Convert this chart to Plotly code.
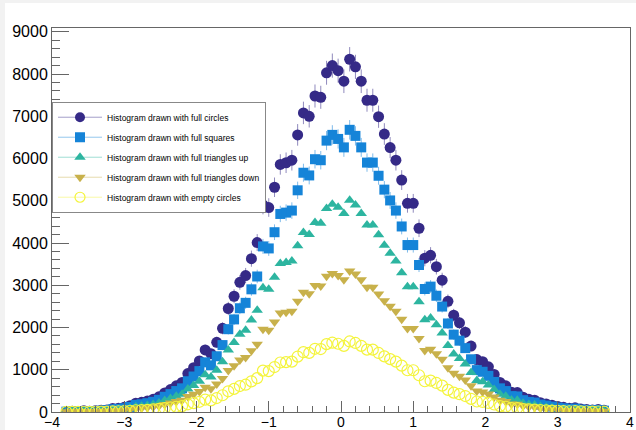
import plotly.graph_objects as go

# Histogram bin centres (100 bins from -4 to 4; only non-empty bins kept)
bin_centers = [
    -3.80, -3.72, -3.64, -3.56, -3.48, -3.40, -3.32, -3.24, -3.16, -3.08,
    -3.00, -2.92, -2.84, -2.76, -2.68, -2.60, -2.52, -2.44, -2.36, -2.28,
    -2.20, -2.12, -2.04, -1.96, -1.88, -1.80, -1.72, -1.64, -1.56, -1.48,
    -1.40, -1.32, -1.24, -1.16, -1.08, -1.00, -0.92, -0.84, -0.76, -0.68,
    -0.60, -0.52, -0.44, -0.36, -0.28, -0.20, -0.12, -0.04, 0.04, 0.12,
    0.20, 0.28, 0.36, 0.44, 0.52, 0.60, 0.68, 0.76, 0.84, 0.92,
    1.00, 1.08, 1.16, 1.24, 1.32, 1.40, 1.48, 1.56, 1.64, 1.72,
    1.80, 1.88, 1.96, 2.04, 2.12, 2.20, 2.28, 2.36, 2.44, 2.52,
    2.60, 2.68, 2.76, 2.84, 2.92, 3.00, 3.08, 3.16, 3.24, 3.32,
    3.40, 3.48, 3.56, 3.64,
]

full_circles = [
    10, 20, 10, 30, 20, 30, 40, 50, 80, 90,
    110, 150, 210, 230, 260, 300, 360, 450, 530, 620,
    700, 910, 1050, 1210, 1470, 1380, 1650, 1980, 2450, 2740,
    3070, 3230, 3630, 4010, 4900, 4840, 5320, 5860, 5900, 5960,
    6560, 7080, 7000, 7480, 7450, 8030, 8200, 8080, 7830, 8350,
    8170, 7830, 7380, 7380, 6990, 6580, 6260, 5960, 5490, 4940,
    4940, 4350, 3640, 3710, 3440, 3120, 2620, 2290, 2110, 1890,
    1560, 1240, 1190, 1070, 890, 700, 620, 470, 460, 350,
    300, 280, 220, 190, 160, 130, 110, 90, 100, 70,
    60, 50, 60, 40,
]
full_circles_err = [
    10, 14, 10, 17, 14, 17, 20, 22, 28, 30,
    33, 39, 46, 48, 51, 55, 60, 67, 73, 79,
    84, 95, 102, 110, 121, 117, 128, 141, 157, 166,
    175, 180, 191, 200, 221, 220, 231, 242, 243, 244,
    256, 266, 265, 273, 273, 283, 286, 284, 280, 289,
    286, 280, 272, 272, 264, 257, 250, 244, 234, 222,
    222, 209, 191, 193, 185, 177, 162, 151, 145, 137,
    125, 111, 109, 103, 94, 84, 79, 69, 68, 59,
    55, 53, 47, 44, 40, 36, 33, 30, 32, 26,
    24, 22, 24, 20,
]

full_squares = [
    8, 16, 8, 24, 16, 24, 32, 40, 64, 72,
    88, 120, 168, 184, 208, 240, 288, 360, 424, 496,
    560, 728, 840, 968, 1176, 1104, 1320, 1584, 1960, 2192,
    2456, 2584, 2904, 3208, 3920, 3872, 4256, 4688, 4720, 4768,
    5248, 5664, 5600, 5984, 5960, 6424, 6560, 6464, 6264, 6680,
    6536, 6264, 5904, 5904, 5592, 5264, 5008, 4768, 4392, 3952,
    3952, 3480, 2912, 2968, 2752, 2496, 2096, 1832, 1688, 1512,
    1248, 992, 952, 856, 712, 560, 496, 376, 368, 280,
    240, 224, 176, 152, 128, 104, 88, 72, 80, 56,
    48, 40, 48, 32,
]
full_squares_err = [
    8, 11, 8, 14, 11, 14, 16, 18, 23, 24,
    27, 31, 37, 38, 41, 44, 48, 54, 58, 63,
    67, 76, 82, 88, 97, 94, 103, 113, 125, 132,
    140, 144, 152, 160, 177, 176, 185, 194, 194, 195,
    205, 213, 212, 219, 218, 227, 229, 227, 224, 231,
    229, 224, 217, 217, 212, 205, 200, 195, 187, 178,
    178, 167, 153, 154, 148, 141, 130, 121, 116, 110,
    100, 89, 87, 83, 75, 67, 63, 55, 54, 47,
    44, 42, 38, 35, 32, 29, 27, 24, 25, 21,
    20, 18, 20, 16,
]

triangles_up = [
    6, 12, 6, 18, 12, 18, 24, 30, 48, 54,
    66, 90, 126, 138, 156, 180, 216, 270, 318, 372,
    420, 546, 630, 726, 882, 828, 990, 1188, 1470, 1644,
    1842, 1938, 2178, 2406, 2940, 2904, 3192, 3516, 3540, 3576,
    3936, 4248, 4200, 4488, 4470, 4818, 4920, 4848, 4698, 5010,
    4902, 4698, 4428, 4428, 4194, 3948, 3756, 3576, 3294, 2964,
    2964, 2610, 2184, 2226, 2064, 1872, 1572, 1374, 1266, 1134,
    936, 744, 714, 642, 534, 420, 372, 282, 276, 210,
    180, 168, 132, 114, 96, 78, 66, 54, 60, 42,
    36, 30, 36, 24,
]

triangles_down = [
    4, 8, 4, 12, 8, 12, 16, 20, 32, 36,
    44, 60, 84, 92, 104, 120, 144, 180, 212, 248,
    280, 364, 420, 484, 588, 552, 660, 792, 980, 1096,
    1228, 1292, 1452, 1604, 1960, 1936, 2128, 2344, 2360, 2384,
    2624, 2832, 2800, 2992, 2980, 3212, 3280, 3232, 3132, 3340,
    3268, 3132, 2952, 2952, 2796, 2632, 2504, 2384, 2196, 1976,
    1976, 1740, 1456, 1484, 1376, 1248, 1048, 916, 844, 756,
    624, 496, 476, 428, 356, 280, 248, 188, 184, 140,
    120, 112, 88, 76, 64, 52, 44, 36, 40, 28,
    24, 20, 24, 16,
]

empty_circles = [
    2, 4, 2, 6, 4, 6, 8, 10, 16, 18,
    22, 30, 42, 46, 52, 60, 72, 90, 106, 124,
    140, 182, 210, 242, 294, 276, 330, 396, 490, 548,
    614, 646, 726, 802, 980, 968, 1064, 1172, 1180, 1192,
    1312, 1416, 1400, 1496, 1490, 1606, 1640, 1616, 1566, 1670,
    1634, 1566, 1476, 1476, 1398, 1316, 1252, 1192, 1098, 988,
    988, 870, 728, 742, 688, 624, 524, 458, 422, 378,
    312, 248, 238, 214, 178, 140, 124, 94, 92, 70,
    60, 56, 44, 38, 32, 26, 22, 18, 20, 14,
    12, 10, 12, 8,
]

series_names = [
    "Histogram drawn with full circles",
    "Histogram drawn with full squares",
    "Histogram drawn with full triangles up",
    "Histogram drawn with full triangles down",
    "Histogram drawn with empty circles",
]
series_values = [full_circles, full_squares, triangles_up, triangles_down, empty_circles]
series_errors = [full_circles_err, full_squares_err, None, None, None]
series_symbols = ["circle", "square", "triangle-up", "triangle-down", "circle-open"]
series_sizes = [11, 10, 10, 10, 11]
series_colors = ["#352a87", "#1584d8", "#2db5a0", "#c8b14b", "#f4f43c"]
series_rgb = [(53, 42, 135), (21, 132, 216), (45, 181, 160), (200, 177, 75), (244, 244, 60)]

FONT = "Liberation Sans, Arial, Helvetica, sans-serif"
AX = "#666666"

fig = go.Figure()

for vals, errs, sym, size, col, rgb in zip(series_values, series_errors, series_symbols,
                                           series_sizes, series_colors, series_rgb):
    tr = dict(
        x=bin_centers, y=vals, mode="markers", showlegend=False, hoverinfo="x+y",
        marker=dict(symbol=sym, size=size, color=col,
                    line=dict(width=1.2 if sym == "circle-open" else 0, color=col)),
    )
    if errs is not None:
        tr["error_y"] = dict(type="data", array=errs, visible=True, width=0, thickness=1,
                             color="rgba(%d,%d,%d,0.55)" % rgb)
    fig.add_trace(go.Scatter(**tr))

# legend entries (line + marker like ROOT's "lpf" legend style)
for k, (name, sym, size, col, rgb) in enumerate(zip(series_names, series_symbols, series_sizes,
                                                    series_colors, series_rgb)):
    fig.add_trace(go.Scatter(
        x=[None], y=[None], mode="lines+markers", name=name, legendgroup="g%d" % k,
        line=dict(width=1, color="rgba(%d,%d,%d,0.45)" % rgb),
        marker=dict(symbol=sym, size=10, color=col,
                    line=dict(width=1.2 if sym == "circle-open" else 0, color=col)),
    ))

fig.update_layout(
    width=636, height=430,
    margin=dict(l=52, r=6, t=28, b=18),
    paper_bgcolor="white", plot_bgcolor="white",
    font=dict(family=FONT, color="black"),
    showlegend=True,
    legend=dict(
        x=0.0, y=0.808, xanchor="left", yanchor="top",
        bgcolor="white", bordercolor="#888888", borderwidth=1,
        font=dict(size=8.5, family=FONT, color="black"),
        itemwidth=44, tracegroupgap=1, traceorder="grouped",
    ),
    xaxis=dict(
        range=[-4, 4], dtick=1, tick0=0, automargin=False,
        showgrid=False, zeroline=False,
        showline=True, linecolor=AX, linewidth=1, mirror=True,
        ticks="inside", ticklen=11, tickcolor=AX, tickwidth=1,
        tickfont=dict(size=14, family=FONT, color="black"),
        ticklabelstandoff=-3,
        minor=dict(ticks="inside", dtick=0.2, ticklen=6, tickcolor=AX, tickwidth=1, showgrid=False),
    ),
    yaxis=dict(
        range=[0, 9090], dtick=1000, tick0=0, automargin=False,
        showgrid=False, zeroline=False,
        showline=True, linecolor=AX, linewidth=1, mirror=True,
        ticks="inside", ticklen=17, tickcolor=AX, tickwidth=1,
        tickfont=dict(size=16, family=FONT, color="black"),
        minor=dict(ticks="inside", dtick=200, ticklen=8, tickcolor=AX, tickwidth=1, showgrid=False),
    ),
    shapes=[
        dict(type="rect", xref="paper", yref="paper", x0=-0.1, x1=1.02, y0=1.0651, y1=1.08,
             fillcolor="#f2f2f2", line=dict(width=0), layer="below"),
        dict(type="rect", xref="paper", yref="paper", x0=-0.1, x1=-0.0813, y0=-0.06, y1=1.08,
             fillcolor="#f2f2f2", line=dict(width=0), layer="below"),
    ],
)

fig.write_html(
    "out.html",
    config={"displayModeBar": False},
    post_script="document.body.style.margin='0';document.body.style.padding='0';",
)
